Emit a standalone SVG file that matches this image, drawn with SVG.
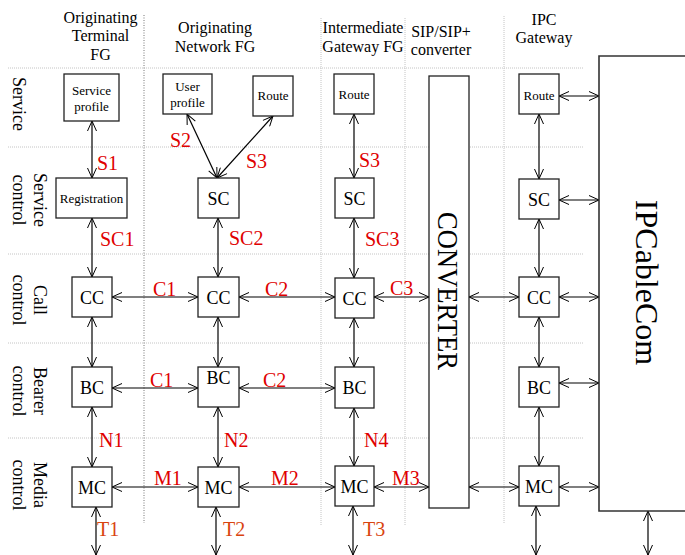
<svg xmlns="http://www.w3.org/2000/svg" width="685" height="555" viewBox="0 0 685 555">
<defs>
<marker id="a" viewBox="0 0 12 10" refX="11" refY="5" markerWidth="12" markerHeight="10" markerUnits="userSpaceOnUse" orient="auto-start-reverse"><path d="M1,0.5 L11,5 L1,9.5" fill="none" stroke="#000" stroke-width="1"/></marker>
</defs>
<style>
.g1{stroke:#777;stroke-dasharray:1 1.5;stroke-width:1}
.g{stroke:#c4c4c4;stroke-dasharray:1 1;stroke-width:1}
.box{fill:#fff;stroke:#222;stroke-width:1.3}
.t{font-family:"Liberation Serif","Times New Roman",serif;fill:#000}
.h{font-size:16px;text-anchor:middle}
.r{font-size:18px;text-anchor:middle}
.s{font-size:13px;text-anchor:middle}
.n{font-size:18px;text-anchor:middle}
.l{font-size:20px;fill:#e00000}
.o{font-size:20px;fill:#d9440f}
.c{stroke:#000;stroke-width:1.2;fill:none;marker-start:url(#a);marker-end:url(#a)}
</style>
<rect width="685" height="555" fill="#fff"/>
<g id="grid">
<path class="g" d="M8,68H583M8,147H583M8,254H583M8,343H583M8,438H583"/>
<path class="g1" d="M144,15V523"/>
<path class="g" d="M321,18V525M405,18V525M504,16V523"/>
</g>
<g id="headers" class="t h">
<text x="100.5" y="23">Originating</text>
<text x="100.5" y="41">Terminal</text>
<text x="100.5" y="60">FG</text>
<text x="215" y="33">Originating</text>
<text x="215" y="52">Network FG</text>
<text x="363" y="33">Intermediate</text>
<text x="363" y="52">Gateway FG</text>
<text x="441" y="37">SIP/SIP+</text>
<text x="441" y="55">converter</text>
<text x="544" y="25">IPC</text>
<text x="544" y="43">Gateway</text>
</g>
<g id="rows" class="t r">
<text transform="translate(13,104) rotate(90)">Service</text>
<text transform="translate(34,200) rotate(90)">Service</text>
<text transform="translate(13,200) rotate(90)">control</text>
<text transform="translate(34,300) rotate(90)">Call</text>
<text transform="translate(13,300) rotate(90)">control</text>
<text transform="translate(34,391) rotate(90)">Bearer</text>
<text transform="translate(13,391) rotate(90)">control</text>
<text transform="translate(34,485) rotate(90)">Media</text>
<text transform="translate(13,485) rotate(90)">control</text>
</g>
<g id="connectors">
<path class="c" d="M92,121V178"/>
<path class="c" d="M92,218V277"/>
<path class="c" d="M187,114L217,178"/>
<path class="c" d="M273,116L217,178"/>
<path class="c" d="M218,218V277"/>
<path class="c" d="M354,114V178"/>
<path class="c" d="M354,218V278"/>
<path class="c" d="M539,114V179"/>
<path class="c" d="M539,219V277"/>
<path class="c" d="M559,96H599"/>
<path class="c" d="M559,200H599"/>
<path class="c" d="M112,297H198"/>
<path class="c" d="M239,297H335"/>
<path class="c" d="M374,297H429"/>
<path class="c" d="M469,297H519"/>
<path class="c" d="M559,297H599"/>
<path class="c" d="M92,317V367"/>
<path class="c" d="M218,317V367"/>
<path class="c" d="M354,318V367"/>
<path class="c" d="M539,317V367"/>
<path class="c" d="M112,388H198"/>
<path class="c" d="M239,388H335"/>
<path class="c" d="M559,383H599"/>
<path class="c" d="M92,407V467"/>
<path class="c" d="M218,407V467"/>
<path class="c" d="M354,408V466"/>
<path class="c" d="M539,407V466"/>
<path class="c" d="M112,487H198"/>
<path class="c" d="M239,487H335"/>
<path class="c" d="M374,487H429"/>
<path class="c" d="M469,487H519"/>
<path class="c" d="M559,487H599"/>
<path class="c" d="M96,507V555"/>
<path class="c" d="M216,507V555"/>
<path class="c" d="M353,506V555"/>
<path class="c" d="M536,506V555"/>
<path class="c" d="M648,511V555"/>
</g>
<g id="labels" class="t">
<text class="l" x="97" y="170">S1</text>
<text class="l" x="100" y="246">SC1</text>
<text class="l" x="170" y="147">S2</text>
<text class="l" x="246" y="168">S3</text>
<text class="l" x="229" y="245">SC2</text>
<text class="l" x="359" y="167">S3</text>
<text class="l" x="365" y="246">SC3</text>
<text class="l" x="153" y="296">C1</text>
<text class="l" x="265" y="296">C2</text>
<text class="l" x="390" y="295">C3</text>
<text class="l" x="150" y="387">C1</text>
<text class="l" x="263" y="387">C2</text>
<text class="l" x="99" y="447">N1</text>
<text class="l" x="224" y="447">N2</text>
<text class="l" x="364" y="447">N4</text>
<text class="l" x="154" y="485">M1</text>
<text class="l" x="271" y="485">M2</text>
<text class="l" x="392" y="485">M3</text>
<text class="o" x="97" y="536">T1</text>
<text class="o" x="223" y="536">T2</text>
<text class="o" x="363" y="536">T3</text>
</g>
<g id="n_service_profile"><rect class="box" x="64" y="74" width="55" height="47"/><text class="t s" x="91.5" y="95">Service</text><text class="t s" x="91.5" y="111">profile</text></g>
<g id="n_user_profile"><rect class="box" x="163" y="74" width="49" height="40"/><text class="t s" x="187.5" y="91">User</text><text class="t s" x="187.5" y="107">profile</text></g>
<g id="n_route_onfg"><rect class="box" x="253" y="76" width="40" height="40"/><text class="t s" x="273" y="100">Route</text></g>
<g id="n_route_igfg"><rect class="box" x="334" y="74" width="40" height="40"/><text class="t s" x="354" y="99">Route</text></g>
<g id="n_route_ipc"><rect class="box" x="519" y="74" width="40" height="40"/><text class="t s" x="539" y="100">Route</text></g>
<g id="n_converter"><rect class="box" x="429" y="76" width="40" height="432"/><text class="t" font-size="30" text-anchor="middle" textLength="158" lengthAdjust="spacingAndGlyphs" transform="translate(438,291) rotate(90)">CONVERTER</text></g>
<g id="n_ipcablecom"><path d="M690,56H599V511H690" fill="#fff" stroke="#333" stroke-width="1.6"/><text class="t" font-size="32" text-anchor="middle" transform="translate(636,282.5) rotate(90)">IPCableCom</text></g>
<g id="n_registration"><rect class="box" x="56" y="178" width="71" height="40"/><text class="t s" x="91.5" y="203">Registration</text></g>
<g id="n_sc_onfg"><rect class="box" x="198" y="178" width="41" height="40"/><text class="t n" x="218.5" y="205">SC</text></g>
<g id="n_sc_igfg"><rect class="box" x="335" y="178" width="39" height="40"/><text class="t n" x="354.5" y="205">SC</text></g>
<g id="n_sc_ipc"><rect class="box" x="519" y="179" width="40" height="40"/><text class="t n" x="539" y="206">SC</text></g>
<g id="n_cc_otfg"><rect class="box" x="72" y="277" width="40" height="40"/><text class="t n" x="92" y="304">CC</text></g>
<g id="n_cc_onfg"><rect class="box" x="198" y="277" width="41" height="40"/><text class="t n" x="218.5" y="304">CC</text></g>
<g id="n_cc_igfg"><rect class="box" x="335" y="278" width="39" height="40"/><text class="t n" x="354.5" y="305">CC</text></g>
<g id="n_cc_ipc"><rect class="box" x="519" y="277" width="40" height="40"/><text class="t n" x="539" y="304">CC</text></g>
<g id="n_bc_otfg"><rect class="box" x="72" y="367" width="40" height="40"/><text class="t n" x="92" y="394">BC</text></g>
<g id="n_bc_onfg"><rect class="box" x="198" y="367" width="41" height="40"/><text class="t n" x="218.5" y="384">BC</text></g>
<g id="n_bc_igfg"><rect class="box" x="335" y="367" width="39" height="41"/><text class="t n" x="354.5" y="394">BC</text></g>
<g id="n_bc_ipc"><rect class="box" x="519" y="367" width="40" height="40"/><text class="t n" x="539" y="394">BC</text></g>
<g id="n_mc_otfg"><rect class="box" x="72" y="467" width="40" height="40"/><text class="t n" x="92" y="494">MC</text></g>
<g id="n_mc_onfg"><rect class="box" x="198" y="467" width="41" height="40"/><text class="t n" x="218.5" y="494">MC</text></g>
<g id="n_mc_igfg"><rect class="box" x="335" y="466" width="39" height="40"/><text class="t n" x="354.5" y="493">MC</text></g>
<g id="n_mc_ipc"><rect class="box" x="519" y="466" width="40" height="40"/><text class="t n" x="539" y="493">MC</text></g>
</svg>
